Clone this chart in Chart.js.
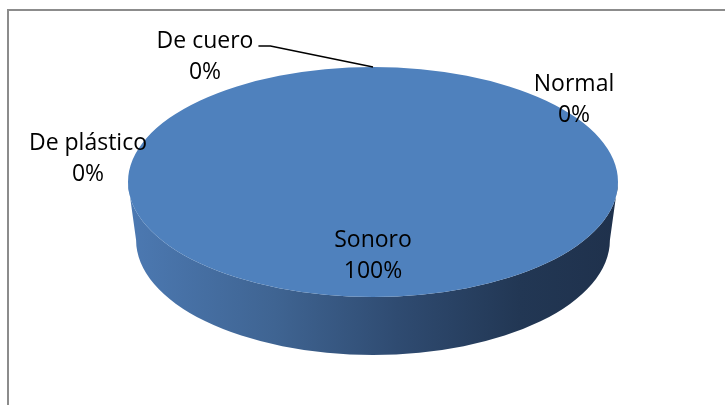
<!DOCTYPE html>
<html>
<head>
<meta charset="utf-8">
<script src="https://cdn.jsdelivr.net/npm/chart.js@4/dist/chart.umd.min.js"></script>
<style>
  html, body { margin: 0; padding: 0; background: #fff; overflow: hidden; }
  #frame {
    position: absolute; left: 7px; top: 9px; width: 800px; height: 500px;
    border: 2px solid #8c8c8c; box-sizing: border-box;
  }
  #pie { position: absolute; left: 0; top: 0; }
</style>
</head>
<body>
<div id="frame"></div>
<canvas id="pie" width="725" height="405"></canvas>
<script>
// data
const categories = ['De cuero', 'Normal', 'De plástico', 'Sonoro'];
const counts = [0, 0, 0, 100];

// where Excel parked the labels of the empty slices
const emptySliceLabelSpots = {
    'De cuero': { x: 205, y: 41, leader: true },
    'Normal': { x: 574, y: 84 },
    'De plástico': { x: 88, y: 143 }
};

const TOP_COLOR = '#4f81bd';
const STRETCH_X = 245 / 115;   // squash the round pie into an ellipse
const DEPTH = 58;              // height of the 3d rim
const BOTTOM_SHRINK = 0.967;   // a bit of perspective on the rim's lower edge
const LINE_GAP = 31;

const total = counts.reduce((a, b) => a + b, 0);
const pct = v => Math.round(v / total * 100) + '%';

// parts of [a0,a1] that face the viewer (lower half of the ellipse)
function frontRanges(a0, a1) {
    const out = [];
    for (let k = -2; k <= 2; k++) {
        const lo = Math.max(a0, k * 2 * Math.PI);
        const hi = Math.min(a1, k * 2 * Math.PI + Math.PI);
        if (hi > lo) out.push([lo, hi]);
    }
    return out;
}

const tiltPlugin = {
    id: 'tilt',
    beforeDatasetsDraw(chart) {
        const ctx = chart.ctx;
        const arcs = chart.getDatasetMeta(0).data;
        const first = arcs[0];
        const cx = first.x, cy = first.y;
        const rx = first.outerRadius * STRETCH_X, ry = first.outerRadius;

        const grad = ctx.createLinearGradient(cx - rx, 0, cx + rx, 0);
        grad.addColorStop(0, '#4c79b2');
        grad.addColorStop(0.3, '#3f6492');
        grad.addColorStop(0.55, '#2f4b71');
        grad.addColorStop(0.8, '#223754');
        grad.addColorStop(1, '#1f314c');

        arcs.forEach(arc => {
            if (arc.endAngle - arc.startAngle <= 0) return;
            frontRanges(arc.startAngle, arc.endAngle).forEach(([a0, a1]) => {
                ctx.beginPath();
                ctx.ellipse(cx, cy, rx, ry, 0, a0, a1, false);
                ctx.ellipse(cx, cy + DEPTH, rx * BOTTOM_SHRINK, ry, 0, a1, a0, true);
                ctx.closePath();
                ctx.fillStyle = grad;
                ctx.fill();
            });
        });

        ctx.save();
        ctx.translate(cx, cy);
        ctx.scale(STRETCH_X, 1);
        ctx.translate(-cx, -cy);
    },
    afterDatasetsDraw(chart) {
        chart.ctx.restore();
    },
    afterDraw(chart) {
        const ctx = chart.ctx;
        const arcs = chart.getDatasetMeta(0).data;
        const cx = arcs[0].x, cy = arcs[0].y, r = arcs[0].outerRadius;
        ctx.save();
        ctx.font = '23px "Open Sans"';
        ctx.fillStyle = '#000';
        ctx.textAlign = 'center';
        ctx.textBaseline = 'middle';

        categories.forEach((name, i) => {
            let x, y;
            const spot = emptySliceLabelSpots[name];
            if (counts[i] === 0 && spot) {
                x = spot.x; y = spot.y;
                if (spot.leader) {
                    const w = ctx.measureText(name).width;
                    ctx.beginPath();
                    ctx.moveTo(x + w / 2 + 5, y + 5);
                    ctx.lineTo(x + w / 2 + 17, y + 5);
                    ctx.lineTo(cx, cy - r);
                    ctx.strokeStyle = '#000';
                    ctx.lineWidth = 1.6;
                    ctx.stroke();
                }
            } else {
                const p = arcs[i].tooltipPosition();
                x = cx + (p.x - cx) * STRETCH_X;
                y = p.y + 1;
            }
            ctx.fillText(name, x, y);
            ctx.fillText(pct(counts[i]), x, y + LINE_GAP);
        });
        ctx.restore();
    }
};

new Chart(document.getElementById('pie'), {
    type: 'pie',
    data: {
        labels: categories,
        datasets: [{
            data: counts,
            backgroundColor: TOP_COLOR,
            borderWidth: 0,
            radius: 115
        }]
    },
    options: {
        responsive: false,
        animation: false,
        layout: { padding: { left: 21, right: 0, top: 0, bottom: 41 } },
        plugins: {
            legend: { display: false },
            tooltip: { enabled: false }
        }
    },
    plugins: [tiltPlugin]
});
</script>
</body>
</html>
